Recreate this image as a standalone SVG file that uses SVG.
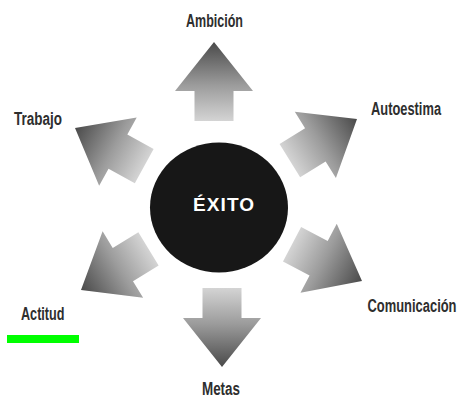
<svg xmlns="http://www.w3.org/2000/svg" width="459" height="398" viewBox="0 0 459 398">
  <style>
    .lbl { font-family: "Liberation Sans", Arial, sans-serif; font-weight: bold; font-size: 19px; fill: #2e2e2e; }
    .core { font-family: "Liberation Sans", Arial, sans-serif; font-weight: bold; font-size: 19px; fill: #ffffff; }
    .arrow { fill: url(#ag); }
  </style>
  <defs>
    <linearGradient id="ag" x1="0" y1="0" x2="1" y2="0">
      <stop offset="0" stop-color="#d4d4d4"/>
      <stop offset="0.45" stop-color="#9c9c9c"/>
      <stop offset="1" stop-color="#4a4a4a"/>
    </linearGradient>
    <path id="arr" d="M0,0 L-49,-39 L-49,-19.5 L-79,-19.5 L-79,19.5 L-49,19.5 L-49,39 Z"/>
  </defs>
  <rect width="459" height="398" fill="#ffffff"/>

  <g id="connectors">
    <use href="#arr" class="arrow" transform="translate(214,42) rotate(-90)"/>
    <use href="#arr" class="arrow" transform="translate(357,119) rotate(-31.8)"/>
    <use href="#arr" class="arrow" transform="translate(362,281) rotate(27.7)"/>
    <use href="#arr" class="arrow" transform="translate(222,367) rotate(90)"/>
    <use href="#arr" class="arrow" transform="translate(81,290) rotate(148.7)"/>
    <use href="#arr" class="arrow" transform="translate(75,128) rotate(-151.2)"/>
  </g>

  <g id="exito">
    <ellipse cx="219" cy="207.5" rx="69" ry="65" fill="#171717"/>
    <text class="core" x="193" y="211" textLength="61">ÉXITO</text>
  </g>

  <g id="ambicion">
    <text class="lbl" transform="translate(186,27) scale(0.68,1)" textLength="83.8" lengthAdjust="spacingAndGlyphs">Ambición</text>
  </g>
  <g id="autoestima">
    <text class="lbl" transform="translate(371,115) scale(0.68,1)" textLength="103" lengthAdjust="spacingAndGlyphs">Autoestima</text>
  </g>
  <g id="comunicacion">
    <text class="lbl" transform="translate(367.5,311.5) scale(0.68,1)" textLength="130.9" lengthAdjust="spacingAndGlyphs">Comunicación</text>
  </g>
  <g id="metas">
    <text class="lbl" transform="translate(202,395) scale(0.68,1)" textLength="55.9" lengthAdjust="spacingAndGlyphs">Metas</text>
  </g>
  <g id="actitud">
    <text class="lbl" transform="translate(21,319.5) scale(0.68,1)" textLength="64" lengthAdjust="spacingAndGlyphs">Actitud</text>
    <rect x="7" y="335" width="72" height="8" fill="#00ff00"/>
  </g>
  <g id="trabajo">
    <text class="lbl" transform="translate(14,124.5) scale(0.68,1)" textLength="70.6" lengthAdjust="spacingAndGlyphs">Trabajo</text>
  </g>
</svg>
